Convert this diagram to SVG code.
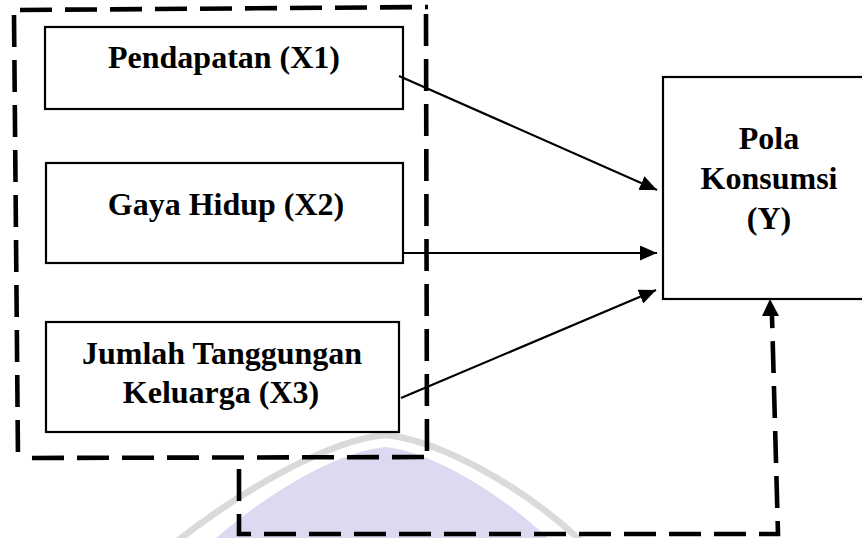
<svg xmlns="http://www.w3.org/2000/svg" width="862" height="538" viewBox="0 0 862 538">
  <style>
    .box { fill: #ffffff; stroke: #000000; stroke-width: 2.2; }
    .lbl { font-family: "Liberation Serif", "Times New Roman", serif; font-weight: bold; font-size: 32px; fill: #000000; text-anchor: middle; }
    .dash { fill: none; stroke: #000000; stroke-width: 4.6; stroke-dasharray: 32 13; }
    .conn { fill: none; stroke: #000000; stroke-width: 2.2; }
  </style>
  <defs>
    <marker id="arrow" markerUnits="userSpaceOnUse" markerWidth="17" markerHeight="15" refX="17" refY="7.5" orient="auto">
      <path d="M0,0 L17,7.5 L0,15 Z" fill="#000000"/>
    </marker>
  </defs>
  <rect width="862" height="538" fill="#ffffff"/>

  <!-- faint watermark -->
  <g id="watermark">
    <path d="M 214 540 C 265 495, 335 452, 385 447 C 435 452, 505 497, 550 540 Z" fill="#dcd9f1"/>
    <path d="M 176 542 C 245 488, 330 440, 385 435 C 440 440, 525 488, 582 542" fill="none" stroke="#dadada" stroke-width="6.5"/>
  </g>

  <!-- grouping dashed frame -->
  <g id="group-frame">
    <line class="dash" x1="20" y1="10" x2="428" y2="7"/>
    <line class="dash" x1="14" y1="15" x2="18" y2="459"/>
    <line class="dash" x1="426" y1="14" x2="427" y2="458"/>
    <line class="dash" x1="32" y1="458" x2="427" y2="457"/>
  </g>

  <g id="node-x1">
    <rect class="box" x="45" y="27" width="358" height="82"/>
    <text class="lbl" x="224" y="68">Pendapatan (X1)</text>
  </g>
  <g id="node-x2">
    <rect class="box" x="46" y="163" width="357" height="100"/>
    <text class="lbl" x="226" y="215">Gaya Hidup (X2)</text>
  </g>
  <g id="node-x3">
    <rect class="box" x="46" y="322" width="353" height="110"/>
    <text class="lbl" x="222" y="364">Jumlah Tanggungan</text>
    <text class="lbl" x="221" y="403">Keluarga (X3)</text>
  </g>
  <g id="node-y">
    <rect class="box" x="663" y="77" width="240" height="222"/>
    <text class="lbl" x="769" y="149">Pola</text>
    <text class="lbl" x="769" y="189">Konsumsi</text>
    <text class="lbl" x="769" y="229">(Y)</text>
  </g>

  <g id="connectors">
    <line class="conn" x1="399" y1="76" x2="657" y2="190" marker-end="url(#arrow)"/>
    <line class="conn" x1="403" y1="253" x2="657" y2="253" marker-end="url(#arrow)"/>
    <line class="conn" x1="401" y1="398" x2="656" y2="290" marker-end="url(#arrow)"/>
    <polyline class="dash" points="239,469 239,534 778,534 772,316"/>
    <path d="M 762 316 L 770 299 L 779 316 Z" fill="#000000"/>
  </g>
</svg>
